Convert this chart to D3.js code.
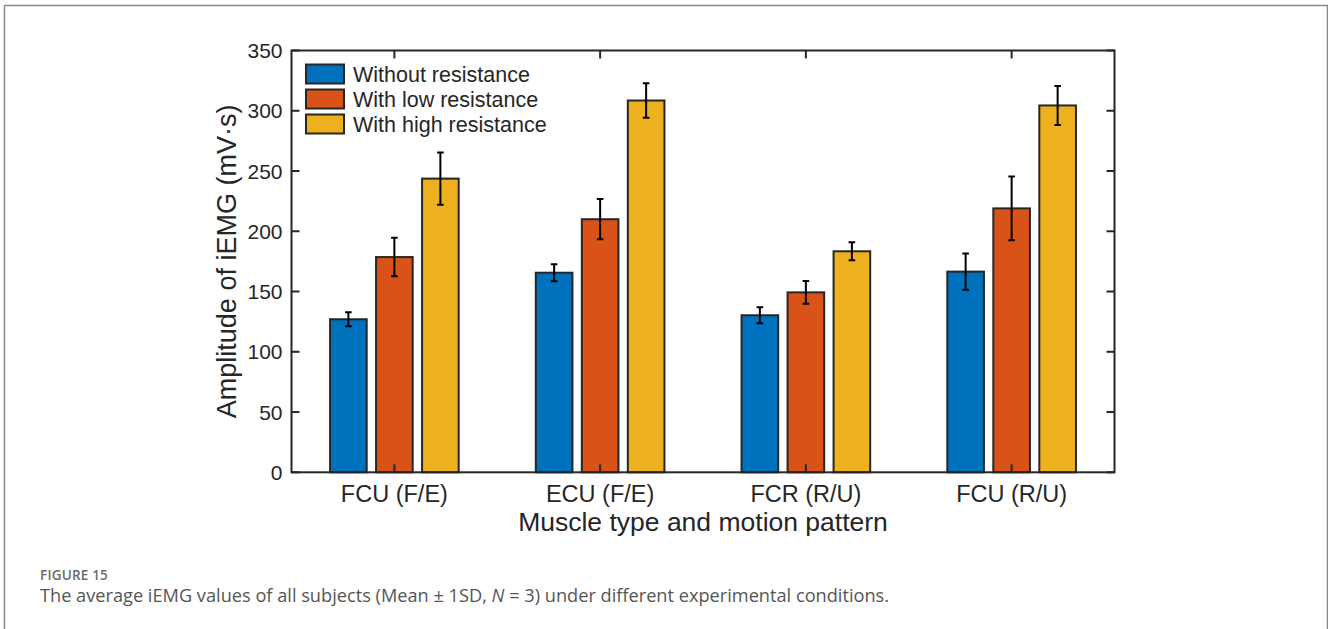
<!DOCTYPE html>
<html>
<head>
<meta charset="utf-8">
<script src="https://cdn.jsdelivr.net/npm/d3@7"></script>
<style>
  html, body { margin: 0; padding: 0; background: #fff; }
  svg { display: block; }
</style>
</head>
<body>
<svg id="fig" width="1328" height="629"></svg>
<script>
// Muscle / motion categories and conditions
const categories = ["FCU (F/E)", "ECU (F/E)", "FCR (R/U)", "FCU (R/U)"];
const conditions = ["Without resistance", "With low resistance", "With high resistance"];

// Mean iEMG amplitude (mV·s) per condition
const meanWithout = [127.0, 165.6, 130.3, 166.5];
const meanLow     = [178.6, 210.0, 149.3, 219.0];
const meanHigh    = [243.7, 308.5, 183.4, 304.4];

// One standard deviation per condition
const sdWithout = [5.8, 7.0, 6.6, 15.0];
const sdLow     = [16.0, 16.7, 9.5, 26.5];
const sdHigh    = [21.7, 14.3, 7.5, 16.2];

const yTicks = [0, 50, 100, 150, 200, 250, 300, 350];

const colors = ["#0072BD", "#D95319", "#EDB120"];
const means = [meanWithout, meanLow, meanHigh];
const sds = [sdWithout, sdLow, sdHigh];

const svg = d3.select("#fig");
const font = "'Liberation Sans', Arial, Helvetica, sans-serif";
const ink = "#262626";

// Outer figure panel border (open at the bottom)
svg.append("path")
  .attr("d", "M4.5,640 V5.5 H1327.5 V640")
  .attr("fill", "none").attr("stroke", "#8a8a8a").attr("stroke-width", 1.5);

const plot = { left: 291.5, right: 1114.5, top: 50.5, bottom: 472.3 };

const x = d3.scaleLinear().domain([0.5, categories.length + 0.5]).range([plot.left, plot.right]);
const y = d3.scaleLinear().domain([0, 350]).range([plot.bottom, plot.top]);

const groupOffset = 0.2236;  // spacing between bars within a group (category units)
const barWidth = 0.178;      // bar width (category units)

const g = svg.append("g");

// Bars
conditions.forEach((cond, s) => {
  const off = (s - 1) * groupOffset;
  g.append("g").selectAll("rect")
    .data(categories.map((c, i) => ({ i, v: means[s][i], sd: sds[s][i] })))
    .join("rect")
    .attr("x", d => x(d.i + 1 + off - barWidth / 2))
    .attr("width", d => x(d.i + 1 + off + barWidth / 2) - x(d.i + 1 + off - barWidth / 2))
    .attr("y", d => y(d.v))
    .attr("height", d => y(0) - y(d.v))
    .attr("fill", colors[s])
    .attr("stroke", ink)
    .attr("stroke-width", 2);
});

// Error bars (mean ± 1 SD)
const capHalf = 0.016;
conditions.forEach((cond, s) => {
  const off = (s - 1) * groupOffset;
  const eg = g.append("g").attr("stroke", "#000").attr("stroke-width", 2).attr("fill", "none");
  categories.forEach((c, i) => {
    const cx = x(i + 1 + off);
    const lo = y(means[s][i] - sds[s][i]);
    const hi = y(means[s][i] + sds[s][i]);
    const hw = x(1 + capHalf) - x(1);
    eg.append("path")
      .attr("d", `M${cx},${lo} V${hi} M${cx - hw},${hi} H${cx + hw} M${cx - hw},${lo} H${cx + hw}`);
  });
});

// Axes box with inward ticks on all sides
const tickLen = 8;
const axisG = svg.append("g").attr("stroke", ink).attr("stroke-width", 2).attr("fill", "none");
axisG.append("rect")
  .attr("x", plot.left).attr("y", plot.top)
  .attr("width", plot.right - plot.left).attr("height", plot.bottom - plot.top);

yTicks.forEach(t => {
  axisG.append("path").attr("d", `M${plot.left},${y(t)} h${tickLen}`);
  axisG.append("path").attr("d", `M${plot.right},${y(t)} h${-tickLen}`);
});
categories.forEach((c, i) => {
  axisG.append("path").attr("d", `M${x(i + 1)},${plot.bottom} v${-tickLen}`);
  axisG.append("path").attr("d", `M${x(i + 1)},${plot.top} v${tickLen}`);
});

// Y tick labels
svg.append("g").selectAll("text").data(yTicks).join("text")
  .attr("x", plot.left - 9)
  .attr("y", d => y(d))
  .attr("dy", "0.36em")
  .attr("text-anchor", "end")
  .attr("font-family", font).attr("font-size", 21).attr("fill", ink)
  .text(d => d);

// X tick labels
svg.append("g").selectAll("text").data(categories).join("text")
  .attr("x", (d, i) => x(i + 1))
  .attr("y", 502)
  .attr("text-anchor", "middle")
  .attr("font-family", font).attr("font-size", 23.5).attr("fill", ink)
  .text(d => d);

// Axis titles
svg.append("text")
  .attr("x", (plot.left + plot.right) / 2).attr("y", 531)
  .attr("text-anchor", "middle")
  .attr("font-family", font).attr("font-size", 26.5).attr("fill", ink)
  .text("Muscle type and motion pattern");

svg.append("text")
  .attr("transform", `translate(236,${(plot.top + plot.bottom) / 2}) rotate(-90)`)
  .attr("text-anchor", "middle")
  .attr("font-family", font).attr("font-size", 27).attr("fill", ink)
  .text("Amplitude of iEMG (mV·s)");

// Legend
const legend = svg.append("g");
conditions.forEach((cond, s) => {
  const ly = 74 + s * 25;
  legend.append("rect")
    .attr("x", 306).attr("y", ly - 9.5).attr("width", 38).attr("height", 19)
    .attr("fill", colors[s]).attr("stroke", ink).attr("stroke-width", 2);
  legend.append("text")
    .attr("x", 353).attr("y", ly).attr("dy", "0.36em")
    .attr("font-family", font).attr("font-size", 21.5).attr("fill", ink)
    .text(cond);
});

// Caption
const capFont = "'Open Sans', Lato, 'Noto Sans', sans-serif";
svg.append("text")
  .attr("x", 40).attr("y", 580)
  .attr("font-family", capFont).attr("font-size", 13.5).attr("font-weight", 600)
  .attr("fill", "#6b6b6b").attr("letter-spacing", 0.2)
  .text("FIGURE 15");

const cap = svg.append("text")
  .attr("x", 40).attr("y", 602)
  .attr("font-family", capFont).attr("font-size", 18.2).attr("fill", "#555");
cap.append("tspan").text("The average iEMG values of all subjects (Mean ± 1SD, ");
cap.append("tspan").attr("font-style", "italic").text("N");
cap.append("tspan").text(" = 3) under different experimental conditions.");
</script>
</body>
</html>
